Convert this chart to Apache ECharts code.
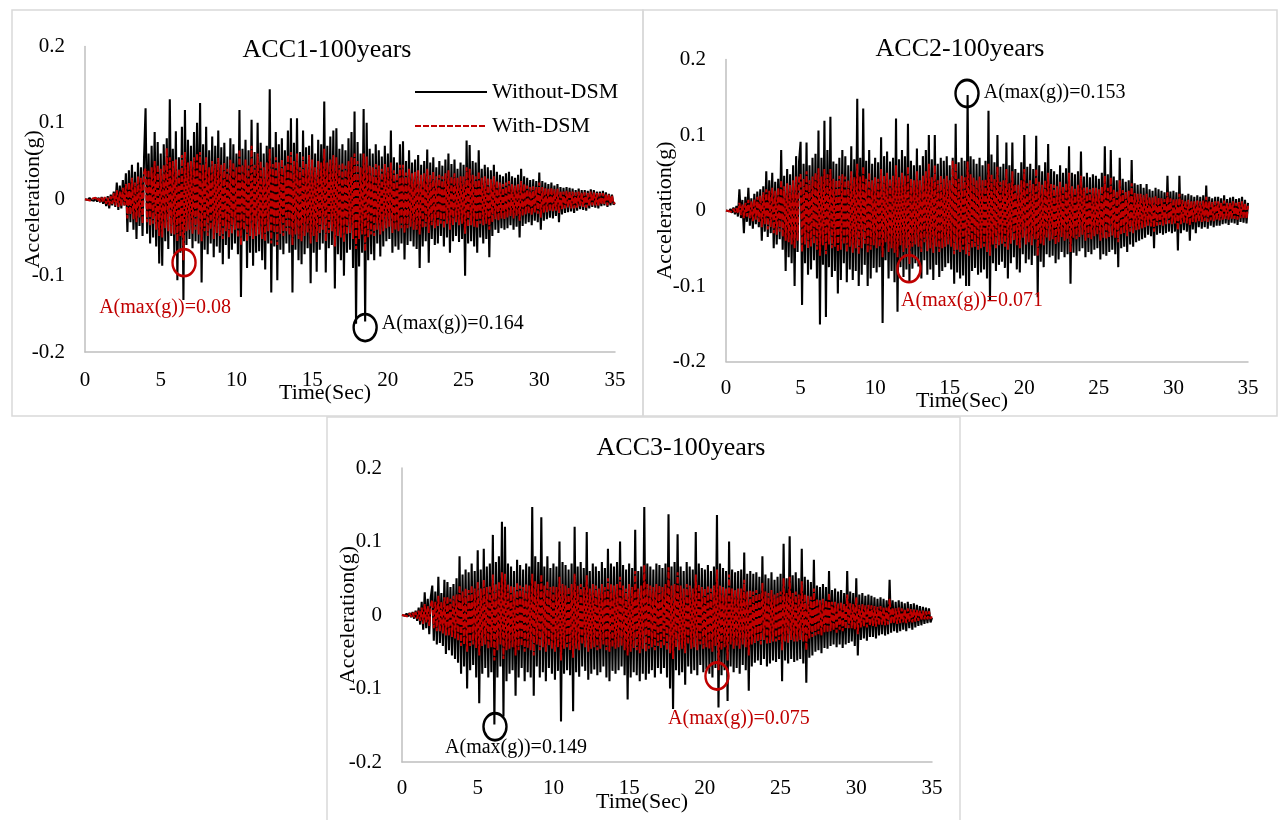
<!DOCTYPE html>
<html><head><meta charset="utf-8">
<script src="https://cdn.jsdelivr.net/npm/echarts@6/dist/echarts.min.js"></script>
<style>html,body{margin:0;padding:0;background:#fff}#c{width:1279px;height:820px}</style>
</head><body><div id="c"></div>
<script>
// ---------- data (acceleration in milli-g, sampled every DT seconds from t = 0 to 35 s) ----------
const DT = 0.1;
const titles = ['ACC1-100years', 'ACC2-100years', 'ACC3-100years'];
const seriesNames = ['Without-DSM', 'With-DSM'];
const xMin = 0, xMax = 35, xStep = 5;
const yMin = -0.2, yMax = 0.2, yStep = 0.1;

const acc1Without = [
0,1,-1,2,-1,1,-2,2,-3,2, -4,3,-6,2,-9,4,-12,6,-8,10, -10,22,-14,18,-12,25,-8,34,-43,38,
-30,45,-40,36,-52,48,-35,42,-48,55, 119,-45,60,-58,70,-50,88,-62,75,-84, 60,-87,72,-55,80,-65,131,-48,66,-72,
89,-106,55,-70,95,-132,117,-60,78,-52, 70,-64,88,-55,100,-58,126,-109,72,-66, 95,-72,64,-58,82,-76,70,-62,90,-70,
68,-85,74,-60,56,-78,80,-66,72,-58, 60,-72,117,-128,66,-55,78,-90,64,-70, 104,-87,62,-70,100,-68,74,-80,60,-92,
70,-58,144,-122,68,-62,88,-106,72,-66, 80,-72,64,-58,90,-70,106,-122,74,-66, 106,-80,62,-85,90,-72,68,-64,70,-110,
85,-70,60,-95,78,-66,72,-58,128,-96, 70,-64,82,-60,90,-117,93,-72,66,-80, 72,-100,64,-70,80,-66,88,-90,115,-163,
75,-88,60,-70,118,-160,100,-80,66,-72, 60,-80,72,-58,64,-75,56,-62,70,-55, 60,-52,90,-70,55,-62,48,-66,72,-58,
76,-79,50,-60,64,-55,48,-62,52,-65, 58,-90,45,-62,50,-55,65,-83,48,-52, 55,-60,42,-58,50,-48,44,-62,52,-50,
60,-70,46,-55,52,-48,40,-56,48,-52, 45,-100,77,-58,71,-55,50,-62,48,-70, 64,-50,40,-58,45,-52,42,-76,38,-48,
45,-40,36,-44,32,-38,30,-40,34,-38, 36,-34,30,-40,28,-36,32,-50,40,-35, 30,-32,28,-30,25,-34,26,-28,24,-30,
35,-40,24,-28,22,-26,20,-24,22,-25, 18,-22,20,-30,16,-20,15,-18,16,-17, 15,-16,14,-18,12,-15,14,-13,12,-14,
12,-15,11,-12,13,-10,12,-11,10,-12, 10,-9,11,-8,9,-10,7,-8,6,-7, -5];

const acc1With = [
0,1,-1,1,-2,1,-1,2,-2,1, -3,2,-4,3,-6,2,-8,4,-6,8, -8,12,-10,10,-9,15,-8,20,-25,22,
-20,28,-26,22,-30,30,-24,28,-32,35, 40,-30,38,-35,42,-32,50,-40,45,-48, 40,-50,45,-38,67,-42,55,-45,50,-46,
52,-55,40,-48,58,-80,62,-42,48,-40, 50,-45,55,-40,60,-46,62,-55,45,-42, 55,-48,42,-40,50,-52,46,-44,54,-48,
45,-52,48,-42,40,-50,52,-45,48,-40, 42,-50,65,-60,45,-40,52,-55,44,-48, 70,-52,45,-48,60,-46,50,-52,42,-55,
48,-42,66,-58,46,-44,55,-60,48,-45, 52,-48,44,-42,58,-47,62,-60,50,-46, 60,-52,42,-55,56,-48,46,-44,58,-58,
52,-48,42,-56,50,-45,48,-40,66,-55, 48,-44,52,-42,58,-62,55,-48,45,-50, 48,-56,44,-46,50,-44,55,-52,60,-65,
50,-52,42,-46,60,-68,56,-50,44,-46, 42,-48,46,-40,44,-46,40,-42,46,-38, 42,-36,48,-44,38,-40,34,-42,45,-38,
45,-44,35,-38,40,-36,34,-40,36,-40, 38,-46,32,-38,34,-36,40,-44,32,-34, 36,-38,30,-36,32,-32,30,-38,34,-32,
38,-40,30,-34,34,-30,28,-34,30,-32, 30,-45,42,-36,40,-34,32,-36,30,-38, 36,-32,28,-34,30,-32,28,-40,26,-30,
30,-26,24,-28,22,-25,20,-26,22,-24, 24,-22,20,-25,18,-22,20,-28,24,-22, 20,-20,18,-19,16,-21,17,-18,16,-19,
22,-24,16,-18,15,-17,14,-16,15,-16, 13,-15,14,-18,11,-13,10,-12,11,-11, 11,-12,10,-12,9,-11,10,-9,9,-10,
9,-11,8,-9,10,-8,9,-8,8,-9, 8,-7,8,-6,7,-8,6,-6,5,-6, -4];

const acc2Without = [
0,1,-1,2,-3,4,-5,6,-8,28, -10,14,-30,18,-15,30,-20,16,-24,22, -18,25,-22,28,-40,32,-28,52,-35,40,
-30,50,-50,38,-45,42,-38,80,-52,46, -80,55,-62,48,-70,60,-100,72,-55,65, 91,-125,62,-70,90,-85,60,-78,70,-66,
75,-90,106,-151,70,-72,119,-141,80,-75, 124,-88,65,-80,62,-110,70,-92,80,-70, 72,-95,60,-78,85,-92,68,-80,148,-100,
70,-85,135,-72,66,-100,80,-90,62,-76, 70,-82,64,-75,97,-149,72,-66,78,-90, 65,-80,70,-95,122,-134,68,-75,80,-88,
72,-78,115,-95,66,-77,60,-70,82,-74, 60,-90,72,-66,80,-85,100,-78,68,-92, 100,-72,62,-88,70,-80,66,-75,72,-70,
60,-78,70,-97,115,-82,64,-90,70,-86, 66,-100,153,-100,72,-80,68,-76,62,-85, 70,-82,60,-78,66,-90,132,-120,74,-70,
64,-80,100,-72,58,-68,62,-76,90,-90, 60,-70,90,-62,55,-78,50,-82,64,-58, 100,-70,58,-65,62,-72,55,-60,99,-115,
60,-68,52,-75,64,-58,88,-62,55,-60, 52,-70,48,-65,60,-55,50,-62,56,-58, 85,-97,50,-56,48,-60,52,-54,78,-50,
45,-62,50,-55,44,-58,48,-52,46,-50, 42,-65,50,-58,85,-60,48,-55,80,-52, 45,-58,40,-75,70,-50,42,-48,38,-55,
40,-45,67,-48,36,-42,34,-40,35,-38, 30,-36,35,-32,28,-34,26,-50,30,-32, 28,-30,26,-32,24,-30,46,-28,25,-30,
26,-28,24,-53,46,-30,22,-26,20,-28, 22,-40,20,-25,18,-30,20,-22,18,-24, 20,-22,33,-24,18,-20,16,-22,18,-20,
18,-20,16,-18,20,-17,15,-19,17,-16, 18,-17,15,-19,16,-15,18,-16,14,-17, 10];

const acc2With = [
0,1,-1,1,-2,2,-2,3,-4,10, -6,8,-10,10,-8,14,-10,12,-14,15, -12,18,-15,20,-22,24,-18,28,-25,26,
-22,30,-30,26,-32,30,-28,40,-35,32, -40,36,-42,34,-45,40,-50,45,-40,44, 48,-55,42,-45,52,-50,40,-48,45,-44,
50,-52,56,-60,45,-46,55,-58,48,-45, 55,-50,42,-48,40,-55,46,-52,48,-45, 45,-55,40,-48,52,-56,44,-50,62,-58,
45,-50,58,-44,42,-56,50,-52,40,-46, 44,-50,42,-48,55,-62,46,-42,50,-55, 42,-50,46,-56,60,-62,44,-46,50,-55,
46,-50,58,-71,42,-48,40,-45,52,-48, 40,-55,46,-42,52,-54,62,-50,44,-56, 60,-48,40,-55,46,-50,42,-48,46,-45,
40,-48,66,-58,62,-52,42,-55,46,-52, 44,-58,65,-60,48,-50,44,-48,40,-52, 45,-50,40,-48,42,-55,62,-60,48,-45,
42,-50,58,-46,38,-44,40,-48,55,-52, 36,-44,52,-40,35,-46,34,-50,40,-36, 55,-45,36,-42,40,-46,35,-38,55,-60,
38,-44,34,-46,40,-36,50,-40,35,-38, 34,-45,32,-42,38,-35,32,-40,36,-38, 50,-55,32,-36,30,-38,34,-35,46,-32,
30,-40,32,-36,28,-38,30,-34,30,-32, 28,-40,32,-36,46,-38,30,-35,44,-33, 28,-36,26,-42,40,-32,27,-30,25,-34,
26,-28,36,-30,23,-26,22,-25,22,-24, 20,-22,22,-20,18,-21,17,-28,19,-20, 17,-19,16,-20,15,-18,24,-17,16,-18,
16,-17,15,-26,22,-18,14,-16,13,-17, 14,-20,13,-15,12,-16,13,-14,12,-15, 13,-14,18,-15,12,-13,11,-14,12,-13,
12,-13,11,-12,13,-11,10,-12,11,-11, 12,-11,10,-12,11,-10,12,-11,10,-11, 6];

const acc3Without = [
0,1,-1,2,-2,3,-3,4,-5,6, -8,10,-13,18,-20,31,-18,22,-26,24, 40,-35,32,-40,52,-38,30,-42,48,-53,
45,-48,38,-55,42,-60,50,-65,80,-80, 55,-70,62,-100,58,-75,70,-68,60,-85, 88,-120,62,-80,90,-72,66,-85,70,-78,
109,-149,72,-85,80,-70,127,-138,120,-90, 70,-80,66,-75,60,-110,75,-85,68,-72, 62,-90,70,-78,66,-85,147,-110,80,-70,
72,-85,133,-78,66,-90,80,-72,64,-80, 70,-88,66,-76,100,-145,72,-80,68,-75, 62,-82,70,-131,120,-78,66,-84,72,-70,
64,-76,113,-88,60,-80,70,-74,66,-82, 60,-78,72,-70,64,-85,90,-90,70,-76, 66,-80,72,-75,100,-70,68,-82,62,-115,
70,-85,64,-78,116,-82,60,-90,66,-80, 147,-88,70,-80,66,-75,62,-85,70,-72, 68,-80,64,-72,70,-85,137,-100,66,-128,
72,-75,110,-82,66,-78,60,-95,72,-70, 66,-80,62,-75,113,-82,70,-68,64,-78, 62,-74,68,-80,60,-85,66,-72,136,-126,
70,-82,64,-75,60,-117,100,-70,62,-78, 58,-72,60,-80,62,-68,85,-75,56,-103, 60,-70,56,-65,58,-62,52,-68,80,-60,
55,-70,50,-66,58,-62,48,-64,52,-60, 56,-90,97,-62,50,-66,107,-60,54,-64, 58,-62,50,-60,90,-66,52,-92,48,-58,
45,-55,75,-50,40,-48,38,-52,42,-45, 38,-46,60,-42,34,-40,36,-44,32,-40, 34,-45,30,-40,60,-38,32,-36,30,-42,
50,-55,28,-34,30,-32,26,-35,28,-30, 26,-30,24,-32,22,-28,24,-26,22,-28, 20,-26,48,-24,20,-22,18,-24,20,-22,
18,-20,16,-22,18,-18,15,-20,16,-17, 14,-15,12,-14,11,-12,10,-11,9,-10, -4];

const acc3With = [
0,1,-1,1,-2,2,-2,3,-3,4, -5,6,-8,10,-12,15,-10,12,-15,14, 20,-18,18,-22,26,-22,18,-25,24,-28,
25,-28,22,-30,26,-32,28,-35,40,-42, 32,-40,36,-50,34,-42,40,-40,36,-45, 45,-55,36,-42,48,-40,38,-46,40,-44,
55,-62,42,-48,45,-40,58,-60,56,-48, 42,-46,40,-44,38,-55,44,-48,40,-42, 38,-50,42,-45,40,-48,56,-55,46,-40,
42,-48,55,-44,40,-50,46,-42,38,-46, 40,-50,38,-44,52,-62,42,-46,40,-44, 38,-48,42,-58,56,-46,40,-48,42,-40,
38,-44,54,-50,36,-46,42,-44,40,-48, 36,-46,42,-40,38,-48,50,-50,42,-44, 40,-46,42,-44,52,-42,40,-48,36,-55,
42,-50,38,-45,60,-48,36,-52,40,-46, 68,-50,42,-46,40,-44,38,-48,42,-42, 40,-46,38,-42,42,-48,65,-52,40,-60,
42,-44,58,-48,40,-46,36,-52,42,-40, 40,-46,36,-44,55,-48,42,-40,38,-46, 36,-44,40,-46,36,-50,40,-42,62,-75,
40,-48,38,-44,36,-62,55,-40,36,-46, 34,-42,36,-46,36,-40,48,-44,32,-55, 34,-40,32,-38,34,-36,30,-40,44,-34,
32,-40,30,-38,34,-36,28,-36,30,-34, 32,-48,50,-36,30,-38,52,-34,30,-36, 32,-36,28,-34,46,-36,28,-48,26,-32,
25,-30,36,-28,22,-26,20,-28,22,-24, 20,-24,30,-22,18,-21,18,-24,16,-20, 17,-22,15,-19,28,-18,16,-18,15,-20,
24,-26,14,-17,15,-16,13,-17,14,-15, 13,-15,12,-16,11,-14,12,-13,11,-14, 10,-13,22,-12,10,-11,9,-12,10,-11,
9,-10,8,-11,9,-9,8,-10,8,-9, 7,-8,6,-7,6,-6,5,-6,5,-5, -2];

// peak annotations: [time (s), acceleration (g)] and their labels
const peakWithout = [[18.5, -0.168], [16.16, 0.155], [6.14, -0.152]];
const peakWithoutText = ['A(max(g))=0.164', 'A(max(g))=0.153', 'A(max(g))=0.149'];
const peakWith = [[6.54, -0.083], [12.27, -0.077], [20.8, -0.083]];
const peakWithText = ['A(max(g))=0.08', 'A(max(g))=0.071', 'A(max(g))=0.075'];

// ---------- chart ----------
const FONT = '"Liberation Serif","Times New Roman",serif';
const BLACK = '#000000', RED = '#c00000', AXIS = '#bfbfbf', FRAME = '#d9d9d9';
const toPairs = arr => arr.map((v, i) => [Math.round(i * DT * 10) / 10, v / 1000]);

const withoutData = [acc1Without, acc2Without, acc3Without];
const withData = [acc1With, acc2With, acc3With];

const grids = [
  {left: 85, top: 46.5, width: 530, height: 305.5},
  {left: 726, top: 59.5, width: 522, height: 302},
  {left: 402, top: 468, width: 530, height: 294}
];
const titlePos = [{x: 327, y: 37}, {x: 960, y: 36}, {x: 681, y: 435}];
const xLabelMargin = [18, 16, 16];
const xNameGap = [30, 29, 29];
const yNameGap = [41, 50, 43];
const blackLabel = [
  {position: 'right', distance: 4, offset: [0, -4]},
  {position: 'right', distance: 4, offset: [0, -1]},
  {position: 'bottom', distance: -4, offset: [21, 0]}
];
const redLabel = [
  {position: 'bottom', distance: 20, offset: [-19, 0]},
  {position: 'bottom', distance: 7, offset: [63, 0]},
  {position: 'bottom', distance: 18, offset: [22, 0]}
];

const xAxes = [], yAxes = [], series = [], titleArr = [];
for (let k = 0; k < 3; k++) {
  titleArr.push({
    text: titles[k], left: titlePos[k].x, top: titlePos[k].y, textAlign: 'center', padding: 0,
    textStyle: {fontFamily: FONT, fontSize: 26, fontWeight: 'normal', color: BLACK}
  });
  xAxes.push({
    gridIndex: k, type: 'value', min: xMin, max: xMax, interval: xStep,
    name: 'Time(Sec)', nameLocation: 'middle', nameGap: xNameGap[k], nameMoveOverlap: false,
    nameTextStyle: {fontFamily: FONT, fontSize: 22, color: BLACK, padding: [0, 50, 0, 0]},
    axisLine: {show: true, onZero: false, lineStyle: {color: AXIS, width: 1.5}},
    axisTick: {show: false}, splitLine: {show: false},
    axisLabel: {fontFamily: FONT, fontSize: 21, color: BLACK, margin: xLabelMargin[k]}
  });
  yAxes.push({
    gridIndex: k, type: 'value', min: yMin, max: yMax, interval: yStep,
    name: 'Acceleration(g)', nameLocation: 'middle', nameGap: yNameGap[k], nameRotate: 90, nameMoveOverlap: false,
    nameTextStyle: {fontFamily: FONT, fontSize: 22, color: BLACK},
    axisLine: {show: true, lineStyle: {color: AXIS, width: 1.5}},
    axisTick: {show: false}, splitLine: {show: false},
    axisLabel: {fontFamily: FONT, fontSize: 21, color: BLACK, margin: 20,
      formatter: v => String(Math.round(v * 10) / 10)}
  });
  series.push({
    name: seriesNames[0], type: 'line', xAxisIndex: k, yAxisIndex: k,
    data: toPairs(withoutData[k]), symbol: 'none', z: 2,
    lineStyle: {color: BLACK, width: 2.1}, itemStyle: {color: BLACK},
    markPoint: {
      silent: true, symbol: 'circle', symbolSize: [23, 27],
      itemStyle: {color: 'rgba(0,0,0,0)', borderColor: BLACK, borderWidth: 2.6},
      label: Object.assign({show: true, formatter: peakWithoutText[k], fontFamily: FONT, fontSize: 20, color: BLACK}, blackLabel[k]),
      data: [{coord: peakWithout[k]}]
    }
  });
  series.push({
    name: seriesNames[1], type: 'line', xAxisIndex: k, yAxisIndex: k,
    data: toPairs(withData[k]), symbol: 'none', z: 3,
    lineStyle: {color: RED, width: 2, type: [6, 2]}, itemStyle: {color: RED},
    markPoint: {
      silent: true, symbol: 'circle', symbolSize: [23, 27],
      itemStyle: {color: 'rgba(0,0,0,0)', borderColor: RED, borderWidth: 2.6},
      label: Object.assign({show: true, formatter: peakWithText[k], fontFamily: FONT, fontSize: 20, color: RED}, redLabel[k]),
      data: [{coord: peakWith[k]}]
    }
  });
}

const chart = echarts.init(document.getElementById('c'), null, {renderer: 'canvas'});
chart.setOption({
  animation: false,
  backgroundColor: '#ffffff',
  title: titleArr,
  grid: grids,
  xAxis: xAxes,
  yAxis: yAxes,
  legend: {
    data: seriesNames, orient: 'vertical', left: 409, top: 76, itemWidth: 72, itemHeight: 12, itemGap: 12,
    itemStyle: {opacity: 0},
    textStyle: {fontFamily: FONT, fontSize: 22, color: BLACK}
  },
  graphic: [
    {type: 'rect', silent: true, z: -10, shape: {x: 12, y: 10, width: 631, height: 406}, style: {fill: 'none', stroke: FRAME, lineWidth: 1.5}},
    {type: 'rect', silent: true, z: -10, shape: {x: 643, y: 10, width: 634, height: 406}, style: {fill: 'none', stroke: FRAME, lineWidth: 1.5}},
    {type: 'rect', silent: true, z: -10, shape: {x: 327, y: 417, width: 633, height: 410}, style: {fill: 'none', stroke: FRAME, lineWidth: 1.5}}
  ],
  series: series
});
</script>
</body></html>
